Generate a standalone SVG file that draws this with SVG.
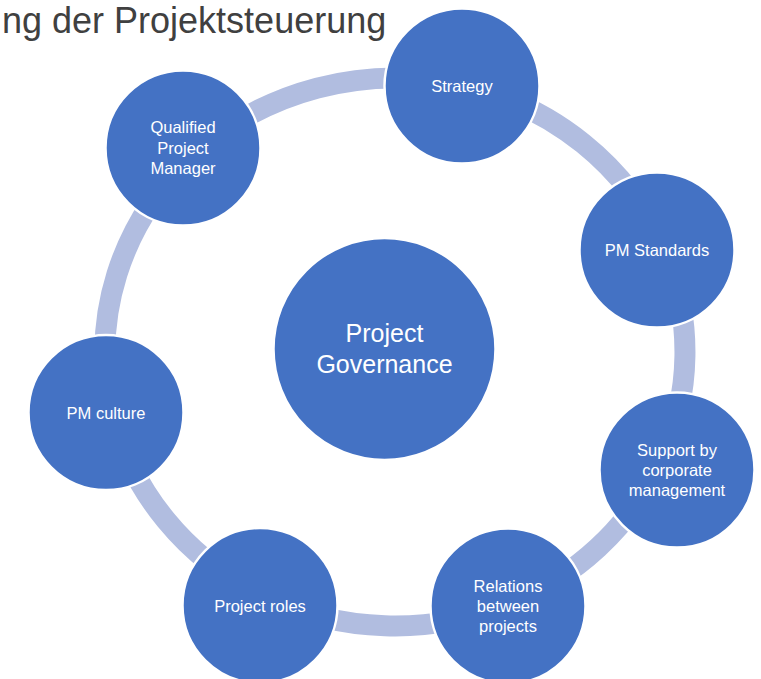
<svg xmlns="http://www.w3.org/2000/svg" width="761" height="679" viewBox="0 0 761 679">
  <style>
    .ring { fill: none; stroke: #B1BDE0; stroke-width: 21; }
    .node { fill: #4472C4; stroke: #FFFFFF; stroke-width: 2.5; }
    .lbl { font-family: "Liberation Sans", Arial, sans-serif; font-size: 16.5px; fill: #FFFFFF; text-anchor: middle; }
    .big { font-family: "Liberation Sans", Arial, sans-serif; font-size: 25px; fill: #FFFFFF; text-anchor: middle; }
    .title { font-family: "Liberation Sans", Arial, sans-serif; font-size: 36px; fill: #404040; }
  </style>
  <rect width="761" height="679" fill="#FFFFFF"/>
  <text class="title" x="2" y="33">ng der Projektsteuerung</text>
  <g id="connectors">
    <path class="ring" d="M191.7,156.6 A290,274 0 0 1 462.2,85.5"/>
    <path class="ring" d="M462.2,85.5 A290,274 0 0 1 663.1,247.6"/>
    <path class="ring" d="M663.1,247.6 A290,274 0 0 1 659.9,463.4"/>
    <path class="ring" d="M659.9,463.4 A290,274 0 0 1 507.4,604.6"/>
    <path class="ring" d="M507.4,604.6 A290,274 0 0 1 264.2,596.6"/>
    <path class="ring" d="M264.2,596.6 A290,274 0 0 1 111.9,411.3"/>
    <path class="ring" d="M111.9,411.3 A290,274 0 0 1 191.7,156.6"/>
  </g>
  <g id="center">
    <circle class="node" cx="384.5" cy="349" r="111"/>
    <text class="big" x="384.5" y="341.5">Project</text>
    <text class="big" x="384.5" y="373">Governance</text>
  </g>
  <g id="strategy">
    <circle class="node" cx="462" cy="86" r="77.5"/>
    <text class="lbl" x="462" y="92">Strategy</text>
  </g>
  <g id="pm-standards">
    <circle class="node" cx="657" cy="250" r="77.5"/>
    <text class="lbl" x="657" y="256">PM Standards</text>
  </g>
  <g id="support">
    <circle class="node" cx="677" cy="470" r="77.5"/>
    <text class="lbl" x="677" y="455.5">Support by</text>
    <text class="lbl" x="677" y="475.8">corporate</text>
    <text class="lbl" x="677" y="496">management</text>
  </g>
  <g id="relations">
    <circle class="node" cx="508" cy="606" r="77.5"/>
    <text class="lbl" x="508" y="591.5">Relations</text>
    <text class="lbl" x="508" y="611.8">between</text>
    <text class="lbl" x="508" y="632">projects</text>
  </g>
  <g id="project-roles">
    <circle class="node" cx="260" cy="605.5" r="77.5"/>
    <text class="lbl" x="260" y="611.5">Project roles</text>
  </g>
  <g id="pm-culture">
    <circle class="node" cx="106" cy="412.5" r="77.5"/>
    <text class="lbl" x="106" y="418.5">PM culture</text>
  </g>
  <g id="qualified-pm">
    <circle class="node" cx="183" cy="148" r="77.5"/>
    <text class="lbl" x="183" y="133.3">Qualified</text>
    <text class="lbl" x="183" y="153.6">Project</text>
    <text class="lbl" x="183" y="174">Manager</text>
  </g>
</svg>
